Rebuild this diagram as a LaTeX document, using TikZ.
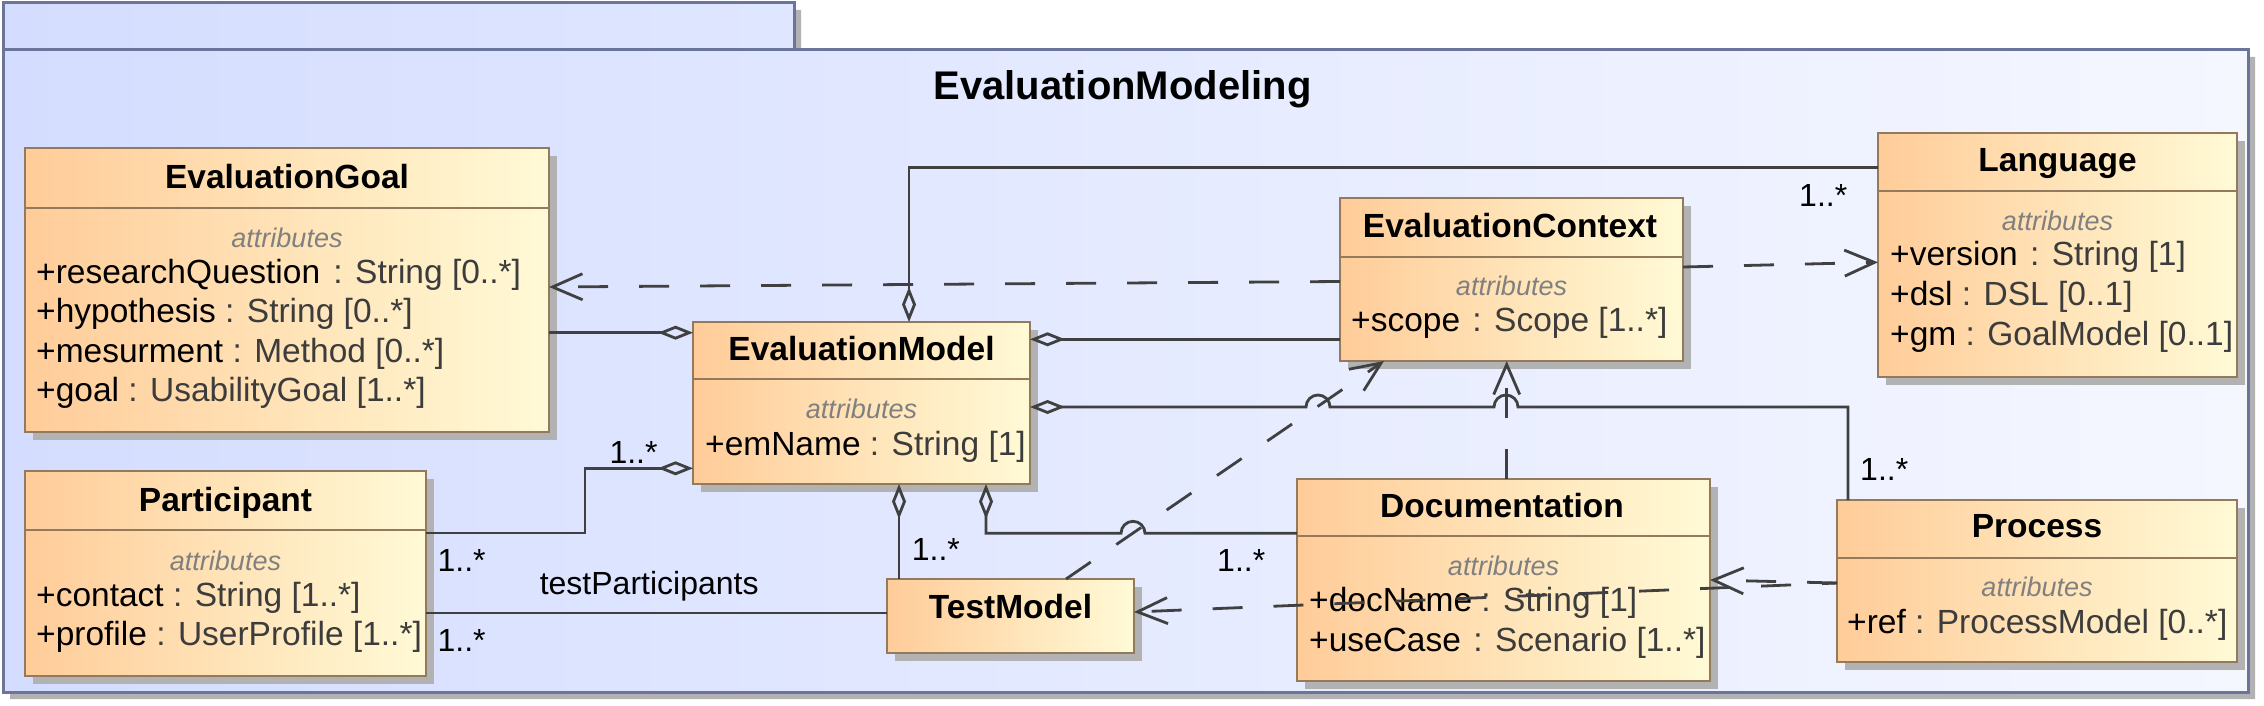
\documentclass[tikz,border=0pt]{standalone}
\usepackage{fontspec}
\setmainfont{Liberation Sans}
\usetikzlibrary{arrows.meta,shadows}
\definecolor{pkgborder}{RGB}{107,117,155}
\definecolor{pkgL}{RGB}{212,221,255}
\definecolor{pkgR}{RGB}{245,247,255}
\definecolor{shadowgray}{RGB}{178,178,178}
\definecolor{clsborder}{RGB}{148,122,92}
\definecolor{clsL}{RGB}{255,204,153}
\definecolor{clsR}{RGB}{255,250,214}
\definecolor{linec}{RGB}{64,64,64}
\definecolor{typec}{RGB}{60,60,60}
\definecolor{attrlbl}{RGB}{128,128,128}
\tikzset{
  cls/.style={draw=clsborder, line width=2.6pt, left color=clsL, right color=clsR,
    anchor=north west, inner sep=0pt, outer sep=0pt,
    drop shadow={shadow xshift=8pt, shadow yshift=-8pt, fill=shadowgray, opacity=1}},
  divline/.style={draw=clsborder, line width=2.6pt},
  cname/.style={font=\fontsize{33.5}{40}\selectfont\bfseries, anchor=base, inner sep=0pt},
  attrhdr/.style={font=\fontsize{27}{32}\selectfont\itshape, text=attrlbl, anchor=base, inner sep=0pt},
  attr/.style={font=\fontsize{33.5}{40}\selectfont, anchor=base west, inner sep=0pt},
  mult/.style={font=\fontsize{32}{38}\selectfont, anchor=base west, inner sep=0pt},
  conn/.style={draw=linec, line width=2.8pt},
  agg/.style={conn, {Diamond[open,length=35pt,width=14pt]}-},
  dep/.style={conn, dash pattern=on 30pt off 31pt, -{Straight Barb[length=30pt,width=26pt]}},
}
\newcommand{\ty}[1]{\textcolor{typec}{#1}}
\begin{document}
\begin{tikzpicture}[x=1pt,y=-1pt]
\useasboundingbox (0,0) rectangle (2264,706);
\fill[white] (0,0) rectangle (2264,706);
% package
\fill[shadowgray] (10,10) -- (801,10) -- (801,57) -- (2255,57) -- (2255,699) -- (10,699) -- cycle;
\shade[left color=pkgL,right color=pkgR] (3,3) -- (794,3) -- (794,50) -- (2248,50) -- (2248,692) -- (3,692) -- cycle;
\draw[pkgborder, line width=3pt] (3,3) -- (794,3) -- (794,50) -- (2248,50) -- (2248,692) -- (3,692) -- cycle;
\draw[pkgborder, line width=3pt] (3,50) -- (794,50);
\node[font=\fontsize{40}{48}\selectfont\bfseries, anchor=base, inner sep=0pt] (title) at (1122.5,99.3) {EvaluationModeling};

% EvaluationGoal
\node[cls, minimum width=524pt, minimum height=284pt] (eg) at (25,148) {};
\draw[divline] (25,208) -- (549,208);
\node[cname] at (287,188) {EvaluationGoal};
\node[attrhdr] at (287,247) {attributes};
\node[attr] at (36,283) {+researchQuestion\hspace{4pt} \ty{: String [0..*]}};
\node[attr] at (36,322.5) {+hypothesis \ty{: String [0..*]}};
\node[attr] at (36,362) {+mesurment \ty{: Method [0..*]}};
\node[attr] at (36,401.5) {+goal \ty{: UsabilityGoal [1..*]}};

% Participant
\node[cls, minimum width=401pt, minimum height=205pt] (part) at (25,471) {};
\draw[divline] (25,530) -- (426,530);
\node[cname] at (225.5,511.7) {Participant};
\node[attrhdr] at (225.5,570) {attributes};
\node[attr] at (36,606.7) {+contact \ty{: String [1..*]}};
\node[attr] at (36,645) {+profile \ty{: UserProfile [1..*]}};

% EvaluationModel
\node[cls, minimum width=337pt, minimum height=162pt] (em) at (693,322) {};
\draw[divline] (693,379) -- (1030,379);
\node[cname] at (861.5,360.7) {EvaluationModel};
\node[attrhdr] at (861.5,418.3) {attributes};
\node[attr] at (705,455) {+emName \ty{: String [1]}};

% TestModel
\node[cls, minimum width=247pt, minimum height=74pt] (tm) at (887,579) {};
\node[cname] at (1010.5,618.3) {TestModel};

% EvaluationContext
\node[cls, minimum width=343pt, minimum height=163pt] (ec) at (1340,198) {};
\draw[divline] (1340,257) -- (1683,257);
\node[cname] at (1510,237.3) {EvaluationContext};
\node[attrhdr] at (1511.5,295) {attributes};
\node[attr] at (1351,331.7) {+scope\hspace{3pt} \ty{: Scope [1..*]}};

% Language
\node[cls, minimum width=359pt, minimum height=244pt] (lang) at (1878,133) {};
\draw[divline] (1878,191) -- (2237,191);
\node[cname] at (2057.5,171.7) {Language};
\node[attrhdr] at (2057.5,230) {attributes};
\node[attr] at (1890,265) {+version\hspace{3pt} \ty{: String [1]}};
\node[attr] at (1890,305) {+dsl \ty{: DSL [0..1]}};
\node[attr] at (1890,345) {+gm \ty{: GoalModel [0..1]}};

% Documentation
\node[cls, minimum width=413pt, minimum height=202pt] (doc) at (1297,479) {};
\draw[divline] (1297,536) -- (1710,536);
\node[cname] at (1502,517.3) {Documentation};
\node[attrhdr] at (1503.5,575) {attributes};
\node[attr] at (1309,611.7) {+docName \ty{: String [1]}};
\node[attr] at (1309,651.7) {+useCase\hspace{3pt} \ty{: Scenario [1..*]}};

% Process
\node[cls, minimum width=400pt, minimum height=162pt] (proc) at (1837,500) {};
\draw[divline] (1837,558) -- (2237,558);
\node[cname] at (2037,537.3) {Process};
\node[attrhdr] at (2037,596.7) {attributes};
\node[attr] at (1847,633.3) {+ref \ty{: ProcessModel [0..*]}};

% coordinates for bends / jumps
\coordinate (b1) at (585,533);
\coordinate (j1) at (1306,407);
\coordinate (j2) at (1494,407);
\coordinate (b2) at (1848,407);
\coordinate (j3) at (1121,533.3);
\coordinate (ps) at (1837,583);

% aggregations / associations
\draw[agg] (em.west |- 0,332.7) -- (eg.east |- 0,332.7);
\draw[agg] (em.north -| 909,0) |- (lang.west |- 0,167.5);
\draw[agg] (em.east |- 0,339.3) -- (ec.west |- 0,339.3);
\draw[agg] (em.east |- j1) -- (j1) arc[start angle=180,end angle=0,radius=12pt]
   -- (j2) arc[start angle=180,end angle=0,radius=12pt] -- (b2) -- (proc.north -| b2);
\draw[agg] (em.south -| 899,0) -- (tm.north -| 899,0);
\draw[agg] (em.south -| 986,0) |- (j3) arc[start angle=180,end angle=0,radius=12pt] -- (doc.west |- j3);
\draw[agg] (em.west |- 0,468.3) -| (b1) -- (part.east |- b1);
\draw[conn] (part.east |- 0,613) -- (tm.west |- 0,613);

% dependencies
\draw[dep] (ec.west |- 0,281.5) -- (eg.east |- 0,287);
\draw[dep] (ec.east |- 0,267) -- (lang.west |- 0,262.3);
\draw[dep] (tm.north -| 1066,0) -- (ec.south -| 1384,0);
\draw[dep] (doc.north -| 1506.7,0) -- (ec.south -| 1506.7,0);
\draw[dep] (ps) -- (doc.east |- 0,580);
\draw[dep, dash phase=15pt] (ps) -- (tm.east |- 0,612);

% labels
\node[mult] at (437.4,571.7) {1..*};
\node[mult] at (437.4,651.7) {1..*};
\node[mult] at (609.3,463.3) {1..*};
\node[mult] at (911.7,560) {1..*};
\node[mult] at (1217,571.7) {1..*};
\node[mult] at (1799,206.7) {1..*};
\node[mult] at (1860,480) {1..*};
\node[mult] at (539.6,594) {testParticipants};
\end{tikzpicture}
\end{document}
